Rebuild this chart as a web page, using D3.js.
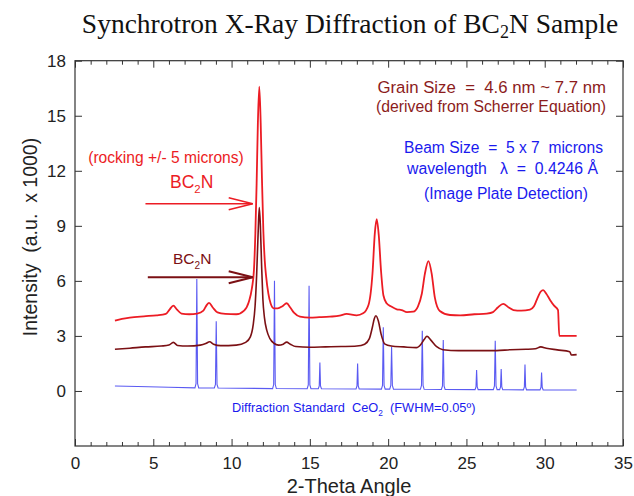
<!DOCTYPE html>
<html>
<head>
<meta charset="utf-8">
<script src="https://cdn.jsdelivr.net/npm/d3@7"></script>
<style>
  body { margin: 0; background: #fff; }
  text { white-space: pre; }
</style>
</head>
<body>
<svg width="634" height="496"></svg>
<script>
// BC2N sample, rocking +/- 5 microns  [2-theta, intensity (x1000)]
const rockingCurve = [
  [2.55,3.83],[3.0,3.93],[3.5,4.0],[4.4,4.07],[5.2,4.12],[5.8,4.2],[6.05,4.45],[6.28,4.65],[6.5,4.45],[6.8,4.22],
  [7.3,4.18],[7.8,4.22],[8.2,4.38],[8.41,4.68],[8.56,4.8],[8.8,4.55],[9.1,4.28],[9.6,4.2],[10.3,4.18],[10.8,4.38],
  [11.1,4.85],[11.3,5.6],[11.43,6.6],[11.52,8.6],[11.6,11.3],[11.68,14.6],[11.77,16.58],[11.86,14.6],[11.94,11.6],
  [12.03,8.7],[12.12,7.1],[12.2,6.3],[12.35,5.3],[12.5,4.75],[12.7,4.5],[12.95,4.5],[13.25,4.62],[13.52,4.78],
  [13.75,4.55],[14.0,4.25],[14.37,4.05],[15.0,4.0],[15.6,4.02],[16.28,4.05],[16.9,4.1],[17.35,4.2],[17.99,4.12],
  [18.4,4.23],[18.75,4.7],[19.0,6.4],[19.15,8.6],[19.27,9.36],[19.4,8.5],[19.55,6.5],[19.7,5.2],[19.9,4.78],
  [20.2,4.6],[20.55,4.45],[20.86,4.41],[21.2,4.3],[21.6,4.32],[21.9,4.6],[22.15,5.3],[22.35,6.4],[22.57,7.08],
  [22.78,6.4],[22.98,5.1],[23.3,4.36],[23.95,4.14],[24.6,4.12],[25.5,4.18],[26.3,4.22],[26.7,4.3],[27.0,4.55],
  [27.35,4.75],[27.7,4.55],[28.0,4.41],[28.5,4.38],[29.06,4.43],[29.3,4.6],[29.5,4.98],[29.75,5.42],[29.9,5.5],
  [30.1,5.3],[30.35,4.95],[30.6,4.65],[30.85,4.4],[30.93,3.0],[32.04,3.0]
];

// BC2N sample  [2-theta, intensity (x1000)]
const sampleCurve = [
  [2.55,2.27],[3.5,2.33],[4.5,2.4],[5.5,2.45],[6.0,2.5],[6.28,2.65],[6.55,2.48],[7.2,2.45],[8.0,2.5],[8.35,2.58],
  [8.6,2.68],[8.85,2.55],[9.3,2.47],[10.3,2.5],[10.9,2.65],[11.2,2.95],[11.38,3.6],[11.5,4.6],[11.6,6.3],
  [11.7,8.7],[11.77,9.99],[11.84,9.0],[11.92,6.8],[12.0,5.0],[12.1,4.0],[12.25,3.3],[12.45,2.85],[12.7,2.6],
  [13.0,2.5],[13.3,2.55],[13.52,2.66],[13.75,2.55],[14.1,2.42],[15.0,2.38],[16.0,2.4],[17.0,2.42],[18.0,2.45],
  [18.5,2.55],[18.8,2.85],[19.0,3.5],[19.12,3.95],[19.22,4.1],[19.38,3.8],[19.55,3.1],[19.8,2.55],[20.2,2.45],
  [21.0,2.4],[21.8,2.36],[22.1,2.55],[22.3,2.8],[22.48,2.98],[22.7,2.8],[23.1,2.41],[23.5,2.25],[24.5,2.2],
  [25.5,2.2],[26.93,2.2],[27.8,2.25],[28.8,2.27],[29.4,2.3],[29.75,2.4],[30.1,2.33],[30.8,2.24],[31.6,2.14],
  [31.7,1.96],[32.04,1.98]
];

// CeO2 diffraction standard (FWHM = 0.05 deg)  [2-theta, intensity (x1000)]
const standardCurve = [
  [2.55,0.27],[4.0,0.24],[6.0,0.2],[7.66,0.17],[7.73,0.4],[7.78,6.1],[7.83,0.4],[7.9,0.17],
  [8.9,0.16],[8.97,0.35],[9.02,3.8],[9.07,0.35],[9.14,0.16],
  [12.62,0.13],[12.69,0.35],[12.74,6.0],[12.79,0.35],[12.86,0.13],
  [14.83,0.12],[14.9,0.33],[14.95,5.73],[15.0,0.33],[15.07,0.12],
  [15.54,0.12],[15.6,0.28],[15.64,1.55],[15.68,0.28],[15.74,0.12],
  [17.95,0.11],[18.01,0.27],[18.05,1.5],[18.09,0.27],[18.15,0.11],
  [19.57,0.1],[19.64,0.3],[19.69,3.47],[19.74,0.3],[19.81,0.1],
  [20.1,0.1],[20.17,0.3],[20.22,2.41],[20.27,0.3],[20.34,0.1],
  [22.06,0.09],[22.13,0.3],[22.18,3.28],[22.23,0.3],[22.3,0.09],
  [23.4,0.08],[23.47,0.28],[23.52,2.78],[23.57,0.28],[23.64,0.08],
  [25.55,0.07],[25.61,0.22],[25.65,1.14],[25.69,0.22],[25.75,0.07],
  [26.72,0.07],[26.79,0.27],[26.84,2.74],[26.89,0.27],[26.96,0.07],
  [27.12,0.07],[27.18,0.22],[27.22,1.2],[27.26,0.22],[27.32,0.07],
  [28.64,0.06],[28.7,0.22],[28.74,1.44],[28.78,0.22],[28.84,0.06],
  [29.7,0.06],[29.76,0.2],[29.8,1.0],[29.84,0.2],[29.9,0.06],
  [32.04,0.05]
];

const xMajorTicks = [0, 5, 10, 15, 20, 25, 30, 35];
const yMajorTicks = [0, 3, 6, 9, 12, 15, 18];

// arrows pointing at the main BC2N peak  [x0, x1, y]
const rockingArrow = [4.5, 11.35, 10.2];
const sampleArrow = [4.65, 11.35, 6.2];

const svg = d3.select("svg");
const plotLeft = 75, plotRight = 623, plotTop = 60.7, plotBottom = 446;

const x = d3.scaleLinear().domain([0, 35]).range([plotLeft, plotRight]);
const y = d3.scaleLinear().domain([-3, 18]).range([plotBottom, plotTop]);

const sans = "'Liberation Sans', Arial, sans-serif";
const red = "#ec1c24", darkRed = "#7b1014", blue = "#1a1aee";

svg.append("rect").attr("width", 634).attr("height", 496).attr("fill", "#fff");

// title
const title = svg.append("text")
  .attr("x", 350).attr("y", 33)
  .attr("text-anchor", "middle")
  .attr("font-family", "'Liberation Serif', 'Times New Roman', serif")
  .attr("font-size", "27.5px")
  .attr("fill", "#111");
title.append("tspan").text("Synchrotron X-Ray Diffraction of BC");
title.append("tspan").attr("font-size", "18px").attr("dy", 5).text("2");
title.append("tspan").attr("dy", -5).text("N Sample");

// curves
const line = d3.line().x(d => x(d[0])).y(d => y(d[1]));
const smooth = d3.line().x(d => x(d[0])).y(d => y(d[1])).curve(d3.curveMonotoneX);

svg.append("path").datum(standardCurve)
  .attr("d", line).attr("fill", "none")
  .attr("stroke", "#5a5af2").attr("stroke-width", 1.1);

svg.append("path").datum(sampleCurve)
  .attr("d", smooth).attr("fill", "none")
  .attr("stroke", darkRed).attr("stroke-width", 1.6);

svg.append("path").datum(rockingCurve)
  .attr("d", smooth).attr("fill", "none")
  .attr("stroke", red).attr("stroke-width", 1.8);

// axes, ticks inward on all four sides
function styleAxis(g) {
  g.select(".domain").remove();
  g.selectAll(".tick line").attr("stroke", "#333");
  g.selectAll(".tick text").attr("font-family", sans).attr("font-size", "17px").attr("fill", "#222");
}
const xMinor = d3.range(0, 36).filter(v => v % 5 !== 0);

svg.append("g").attr("transform", `translate(0,${plotBottom})`)
  .call(d3.axisBottom(x).tickValues(xMajorTicks).tickSize(-7).tickPadding(11).tickFormat(d3.format("d")))
  .call(styleAxis);
svg.append("g").attr("transform", `translate(0,${plotBottom})`)
  .call(d3.axisBottom(x).tickValues(xMinor).tickSize(-4).tickFormat(""))
  .call(styleAxis);
svg.append("g").attr("transform", `translate(0,${plotTop})`)
  .call(d3.axisTop(x).tickValues(xMajorTicks).tickSize(-7).tickFormat(""))
  .call(styleAxis);
svg.append("g").attr("transform", `translate(0,${plotTop})`)
  .call(d3.axisTop(x).tickValues(xMinor).tickSize(-4).tickFormat(""))
  .call(styleAxis);
svg.append("g").attr("transform", `translate(${plotLeft},0)`)
  .call(d3.axisLeft(y).tickValues(yMajorTicks).tickSize(-7).tickPadding(9).tickFormat(d3.format("d")))
  .call(styleAxis);
svg.append("g").attr("transform", `translate(${plotRight},0)`)
  .call(d3.axisRight(y).tickValues(yMajorTicks).tickSize(-7).tickFormat(""))
  .call(styleAxis);

svg.append("rect")
  .attr("x", plotLeft).attr("y", plotTop)
  .attr("width", plotRight - plotLeft).attr("height", plotBottom - plotTop)
  .attr("fill", "none").attr("stroke", "#333").attr("stroke-width", 1.2);

// axis labels
svg.append("text")
  .attr("x", (plotLeft + plotRight) / 2).attr("y", 493)
  .attr("text-anchor", "middle")
  .attr("font-family", sans).attr("font-size", "20px").attr("fill", "#222")
  .text("2-Theta Angle");

svg.append("text")
  .attr("transform", `translate(37,237) rotate(-90)`)
  .attr("text-anchor", "middle")
  .attr("font-family", sans).attr("font-size", "19.5px").attr("fill", "#222")
  .text("Intensity  (a.u.  x 1000)");

// arrows
function arrow(a, color, w) {
  const x0 = x(a[0]), x1 = x(a[1]), yy = y(a[2]);
  svg.append("line").attr("x1", x0).attr("x2", x1).attr("y1", yy).attr("y2", yy)
    .attr("stroke", color).attr("stroke-width", w);
  svg.append("path")
    .attr("d", `M${x1 - 24},${yy - 6}L${x1},${yy}L${x1 - 24},${yy + 6}`)
    .attr("fill", "none").attr("stroke", color).attr("stroke-width", w);
}
arrow(rockingArrow, red, 1.6);
arrow(sampleArrow, darkRed, 2);

// annotations; parts are strings or {subscript: "2"}
function label(px, py, size, color, anchor, parts) {
  const t = svg.append("text").attr("x", px).attr("y", py)
    .attr("text-anchor", anchor)
    .attr("font-family", sans).attr("font-size", size + "px").attr("fill", color);
  let back = 0;
  parts.forEach(p => {
    if (typeof p === "object") {
      t.append("tspan").attr("font-size", (size * 0.65) + "px").attr("dy", size * 0.3).text(p.subscript);
      back = -size * 0.3;
    } else {
      t.append("tspan").attr("dy", back).text(p);
      back = 0;
    }
  });
  return t;
}

label(606, 93, 16.8, "#8c1c1c", "end", ["Grain Size  =  4.6 nm ~ 7.7 nm"]);
label(606, 112, 15.8, "#8c1c1c", "end", ["(derived from Scherrer Equation)"]);
label(603, 153, 15.6, blue, "end", ["Beam Size  =  5 x 7  microns"]);
label(598, 174, 15.8, blue, "end", ["wavelength   \u03bb  =  0.4246 \u00c5"]);
label(506, 199, 15.6, blue, "middle", ["(Image Plate Detection)"]);

label(166, 163, 15.6, red, "middle", ["(rocking +/- 5 microns)"]);
label(170, 188, 17.5, red, "start", ["BC", {subscript: "2"}, "N"]);
label(173, 264, 15.5, darkRed, "start", ["BC", {subscript: "2"}, "N"]);

label(232, 412, 12.8, blue, "start", ["Diffraction Standard  CeO", {subscript: "2"}, "  (FWHM=0.05\u00ba)"]);
</script>
</body>
</html>
